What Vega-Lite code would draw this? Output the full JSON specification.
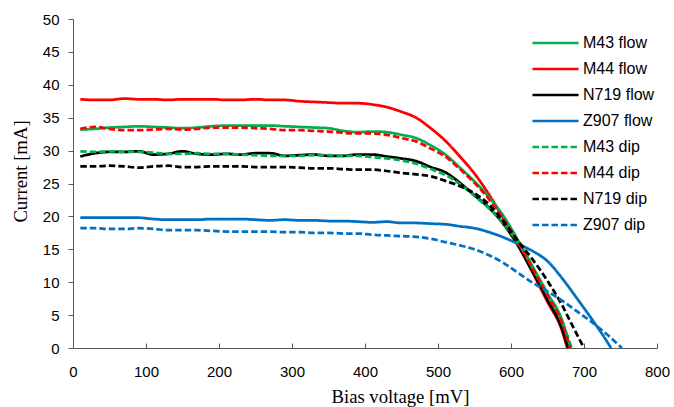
{
  "$schema": "https://vega.github.io/schema/vega-lite/v6.json",
  "width": 584,
  "height": 329,
  "autosize": "none",
  "padding": {"left": 73, "top": 19, "right": 17, "bottom": 59},
  "background": "white",
  "config": {"view": {"stroke": null}, "font": "Liberation Sans"},
  "datasets": {
    "curves": [
      {"s":"M44 flow","v":10,"i":37.8},{"s":"M44 flow","v":30,"i":37.7},{"s":"M44 flow","v":50,"i":37.7},{"s":"M44 flow","v":70,"i":37.9},{"s":"M44 flow","v":90,"i":37.8},{"s":"M44 flow","v":110,"i":37.8},{"s":"M44 flow","v":130,"i":37.7},{"s":"M44 flow","v":150,"i":37.8},{"s":"M44 flow","v":170,"i":37.8},{"s":"M44 flow","v":190,"i":37.8},{"s":"M44 flow","v":210,"i":37.7},{"s":"M44 flow","v":230,"i":37.7},{"s":"M44 flow","v":250,"i":37.8},{"s":"M44 flow","v":270,"i":37.7},{"s":"M44 flow","v":290,"i":37.7},{"s":"M44 flow","v":310,"i":37.5},{"s":"M44 flow","v":330,"i":37.4},{"s":"M44 flow","v":350,"i":37.3},{"s":"M44 flow","v":370,"i":37.2},{"s":"M44 flow","v":390,"i":37.2},{"s":"M44 flow","v":410,"i":37.0},{"s":"M44 flow","v":430,"i":36.6},{"s":"M44 flow","v":450,"i":35.9},{"s":"M44 flow","v":470,"i":35.0},{"s":"M44 flow","v":490,"i":33.4},{"s":"M44 flow","v":510,"i":31.5},{"s":"M44 flow","v":530,"i":29.1},{"s":"M44 flow","v":550,"i":26.5},{"s":"M44 flow","v":570,"i":23.3},{"s":"M44 flow","v":590,"i":19.6},{"s":"M44 flow","v":610,"i":15.6},{"s":"M44 flow","v":630,"i":11.4},{"s":"M44 flow","v":650,"i":7.0},{"s":"M44 flow","v":670,"i":2.6},{"s":"M44 flow","v":677,"i":0},

      {"s":"M43 flow","v":10,"i":33.2},{"s":"M43 flow","v":30,"i":33.3},{"s":"M43 flow","v":50,"i":33.5},{"s":"M43 flow","v":70,"i":33.6},{"s":"M43 flow","v":90,"i":33.7},{"s":"M43 flow","v":110,"i":33.6},{"s":"M43 flow","v":130,"i":33.5},{"s":"M43 flow","v":150,"i":33.4},{"s":"M43 flow","v":170,"i":33.5},{"s":"M43 flow","v":190,"i":33.7},{"s":"M43 flow","v":210,"i":33.8},{"s":"M43 flow","v":230,"i":33.8},{"s":"M43 flow","v":250,"i":33.8},{"s":"M43 flow","v":270,"i":33.8},{"s":"M43 flow","v":290,"i":33.7},{"s":"M43 flow","v":310,"i":33.6},{"s":"M43 flow","v":330,"i":33.5},{"s":"M43 flow","v":350,"i":33.4},{"s":"M43 flow","v":370,"i":33.0},{"s":"M43 flow","v":390,"i":32.8},{"s":"M43 flow","v":410,"i":32.9},{"s":"M43 flow","v":430,"i":32.8},{"s":"M43 flow","v":450,"i":32.4},{"s":"M43 flow","v":470,"i":31.9},{"s":"M43 flow","v":490,"i":30.8},{"s":"M43 flow","v":510,"i":29.4},{"s":"M43 flow","v":530,"i":27.4},{"s":"M43 flow","v":550,"i":25.3},{"s":"M43 flow","v":570,"i":22.9},{"s":"M43 flow","v":590,"i":20.0},{"s":"M43 flow","v":610,"i":16.3},{"s":"M43 flow","v":630,"i":12.3},{"s":"M43 flow","v":650,"i":8.3},{"s":"M43 flow","v":670,"i":4.2},{"s":"M43 flow","v":681,"i":0},

      {"s":"N719 flow","v":10,"i":29.1},{"s":"N719 flow","v":30,"i":29.6},{"s":"N719 flow","v":50,"i":29.8},{"s":"N719 flow","v":70,"i":29.8},{"s":"N719 flow","v":90,"i":29.9},{"s":"N719 flow","v":110,"i":29.4},{"s":"N719 flow","v":130,"i":29.5},{"s":"N719 flow","v":150,"i":29.9},{"s":"N719 flow","v":170,"i":29.5},{"s":"N719 flow","v":190,"i":29.4},{"s":"N719 flow","v":210,"i":29.5},{"s":"N719 flow","v":230,"i":29.4},{"s":"N719 flow","v":250,"i":29.6},{"s":"N719 flow","v":270,"i":29.6},{"s":"N719 flow","v":290,"i":29.2},{"s":"N719 flow","v":310,"i":29.3},{"s":"N719 flow","v":330,"i":29.4},{"s":"N719 flow","v":350,"i":29.2},{"s":"N719 flow","v":370,"i":29.2},{"s":"N719 flow","v":390,"i":29.4},{"s":"N719 flow","v":410,"i":29.4},{"s":"N719 flow","v":430,"i":29.1},{"s":"N719 flow","v":450,"i":28.8},{"s":"N719 flow","v":470,"i":28.4},{"s":"N719 flow","v":490,"i":27.5},{"s":"N719 flow","v":510,"i":26.7},{"s":"N719 flow","v":530,"i":25.1},{"s":"N719 flow","v":550,"i":23.2},{"s":"N719 flow","v":570,"i":21.3},{"s":"N719 flow","v":590,"i":18.8},{"s":"N719 flow","v":610,"i":15.5},{"s":"N719 flow","v":630,"i":11.5},{"s":"N719 flow","v":650,"i":7.3},{"s":"N719 flow","v":670,"i":2.9},{"s":"N719 flow","v":678,"i":0},

      {"s":"Z907 flow","v":10,"i":19.8},{"s":"Z907 flow","v":30,"i":19.8},{"s":"Z907 flow","v":50,"i":19.8},{"s":"Z907 flow","v":70,"i":19.8},{"s":"Z907 flow","v":90,"i":19.8},{"s":"Z907 flow","v":110,"i":19.6},{"s":"Z907 flow","v":130,"i":19.5},{"s":"Z907 flow","v":150,"i":19.5},{"s":"Z907 flow","v":170,"i":19.5},{"s":"Z907 flow","v":190,"i":19.6},{"s":"Z907 flow","v":210,"i":19.6},{"s":"Z907 flow","v":230,"i":19.6},{"s":"Z907 flow","v":250,"i":19.5},{"s":"Z907 flow","v":270,"i":19.4},{"s":"Z907 flow","v":290,"i":19.5},{"s":"Z907 flow","v":310,"i":19.4},{"s":"Z907 flow","v":330,"i":19.4},{"s":"Z907 flow","v":350,"i":19.3},{"s":"Z907 flow","v":370,"i":19.3},{"s":"Z907 flow","v":390,"i":19.2},{"s":"Z907 flow","v":410,"i":19.1},{"s":"Z907 flow","v":430,"i":19.2},{"s":"Z907 flow","v":450,"i":19.0},{"s":"Z907 flow","v":470,"i":19.0},{"s":"Z907 flow","v":490,"i":18.9},{"s":"Z907 flow","v":510,"i":18.8},{"s":"Z907 flow","v":530,"i":18.5},{"s":"Z907 flow","v":550,"i":18.2},{"s":"Z907 flow","v":570,"i":17.6},{"s":"Z907 flow","v":590,"i":16.8},{"s":"Z907 flow","v":610,"i":15.8},{"s":"Z907 flow","v":630,"i":14.7},{"s":"Z907 flow","v":650,"i":13.2},{"s":"Z907 flow","v":670,"i":10.6},{"s":"Z907 flow","v":690,"i":7.6},{"s":"Z907 flow","v":710,"i":4.5},{"s":"Z907 flow","v":725,"i":2.1},{"s":"Z907 flow","v":737,"i":0},

      {"s":"M43 dip","v":10,"i":29.9},{"s":"M43 dip","v":30,"i":29.8},{"s":"M43 dip","v":50,"i":29.9},{"s":"M43 dip","v":70,"i":29.8},{"s":"M43 dip","v":90,"i":29.8},{"s":"M43 dip","v":110,"i":29.7},{"s":"M43 dip","v":130,"i":29.5},{"s":"M43 dip","v":150,"i":29.5},{"s":"M43 dip","v":170,"i":29.6},{"s":"M43 dip","v":190,"i":29.5},{"s":"M43 dip","v":210,"i":29.5},{"s":"M43 dip","v":230,"i":29.4},{"s":"M43 dip","v":250,"i":29.3},{"s":"M43 dip","v":270,"i":29.2},{"s":"M43 dip","v":290,"i":29.2},{"s":"M43 dip","v":310,"i":29.2},{"s":"M43 dip","v":330,"i":29.3},{"s":"M43 dip","v":350,"i":29.3},{"s":"M43 dip","v":370,"i":29.2},{"s":"M43 dip","v":390,"i":29.2},{"s":"M43 dip","v":410,"i":29.0},{"s":"M43 dip","v":430,"i":28.8},{"s":"M43 dip","v":450,"i":28.5},{"s":"M43 dip","v":470,"i":28.0},{"s":"M43 dip","v":490,"i":27.2},{"s":"M43 dip","v":510,"i":26.3},{"s":"M43 dip","v":530,"i":24.9},{"s":"M43 dip","v":550,"i":23.1},{"s":"M43 dip","v":570,"i":21.2},{"s":"M43 dip","v":590,"i":18.9},{"s":"M43 dip","v":610,"i":15.9},{"s":"M43 dip","v":630,"i":12.1},{"s":"M43 dip","v":650,"i":8.1},{"s":"M43 dip","v":670,"i":4.0},{"s":"M43 dip","v":683,"i":0},

      {"s":"M44 dip","v":10,"i":33.3},{"s":"M44 dip","v":30,"i":33.6},{"s":"M44 dip","v":50,"i":33.3},{"s":"M44 dip","v":70,"i":33.1},{"s":"M44 dip","v":90,"i":33.1},{"s":"M44 dip","v":110,"i":33.2},{"s":"M44 dip","v":130,"i":33.3},{"s":"M44 dip","v":150,"i":33.2},{"s":"M44 dip","v":170,"i":33.3},{"s":"M44 dip","v":190,"i":33.5},{"s":"M44 dip","v":210,"i":33.5},{"s":"M44 dip","v":230,"i":33.5},{"s":"M44 dip","v":250,"i":33.4},{"s":"M44 dip","v":270,"i":33.3},{"s":"M44 dip","v":290,"i":33.1},{"s":"M44 dip","v":310,"i":33.1},{"s":"M44 dip","v":330,"i":33.0},{"s":"M44 dip","v":350,"i":32.9},{"s":"M44 dip","v":370,"i":32.7},{"s":"M44 dip","v":390,"i":32.6},{"s":"M44 dip","v":410,"i":32.6},{"s":"M44 dip","v":430,"i":32.4},{"s":"M44 dip","v":450,"i":31.9},{"s":"M44 dip","v":470,"i":31.4},{"s":"M44 dip","v":490,"i":30.3},{"s":"M44 dip","v":510,"i":29.1},{"s":"M44 dip","v":530,"i":27.2},{"s":"M44 dip","v":550,"i":25.1},{"s":"M44 dip","v":570,"i":22.6},{"s":"M44 dip","v":590,"i":19.6},{"s":"M44 dip","v":610,"i":16.0},{"s":"M44 dip","v":630,"i":12.0},{"s":"M44 dip","v":650,"i":8.0},{"s":"M44 dip","v":670,"i":3.8},{"s":"M44 dip","v":681,"i":0},

      {"s":"N719 dip","v":10,"i":27.6},{"s":"N719 dip","v":30,"i":27.6},{"s":"N719 dip","v":50,"i":27.7},{"s":"N719 dip","v":70,"i":27.6},{"s":"N719 dip","v":90,"i":27.4},{"s":"N719 dip","v":110,"i":27.6},{"s":"N719 dip","v":130,"i":27.7},{"s":"N719 dip","v":150,"i":27.5},{"s":"N719 dip","v":170,"i":27.5},{"s":"N719 dip","v":190,"i":27.6},{"s":"N719 dip","v":210,"i":27.6},{"s":"N719 dip","v":230,"i":27.6},{"s":"N719 dip","v":250,"i":27.5},{"s":"N719 dip","v":270,"i":27.5},{"s":"N719 dip","v":290,"i":27.5},{"s":"N719 dip","v":310,"i":27.4},{"s":"N719 dip","v":330,"i":27.3},{"s":"N719 dip","v":350,"i":27.3},{"s":"N719 dip","v":370,"i":27.2},{"s":"N719 dip","v":390,"i":27.1},{"s":"N719 dip","v":410,"i":27.1},{"s":"N719 dip","v":430,"i":26.9},{"s":"N719 dip","v":450,"i":26.6},{"s":"N719 dip","v":470,"i":26.4},{"s":"N719 dip","v":490,"i":26.1},{"s":"N719 dip","v":510,"i":25.4},{"s":"N719 dip","v":530,"i":24.6},{"s":"N719 dip","v":550,"i":23.5},{"s":"N719 dip","v":570,"i":21.8},{"s":"N719 dip","v":590,"i":19.2},{"s":"N719 dip","v":610,"i":16.2},{"s":"N719 dip","v":630,"i":13.4},{"s":"N719 dip","v":650,"i":10.2},{"s":"N719 dip","v":670,"i":6.5},{"s":"N719 dip","v":685,"i":3.2},{"s":"N719 dip","v":700,"i":0},

      {"s":"Z907 dip","v":10,"i":18.2},{"s":"Z907 dip","v":30,"i":18.2},{"s":"Z907 dip","v":50,"i":18.1},{"s":"Z907 dip","v":70,"i":18.1},{"s":"Z907 dip","v":90,"i":18.2},{"s":"Z907 dip","v":110,"i":18.1},{"s":"Z907 dip","v":130,"i":17.9},{"s":"Z907 dip","v":150,"i":17.9},{"s":"Z907 dip","v":170,"i":17.9},{"s":"Z907 dip","v":190,"i":17.8},{"s":"Z907 dip","v":210,"i":17.7},{"s":"Z907 dip","v":230,"i":17.7},{"s":"Z907 dip","v":250,"i":17.7},{"s":"Z907 dip","v":270,"i":17.7},{"s":"Z907 dip","v":290,"i":17.6},{"s":"Z907 dip","v":310,"i":17.6},{"s":"Z907 dip","v":330,"i":17.5},{"s":"Z907 dip","v":350,"i":17.5},{"s":"Z907 dip","v":370,"i":17.4},{"s":"Z907 dip","v":390,"i":17.4},{"s":"Z907 dip","v":410,"i":17.2},{"s":"Z907 dip","v":430,"i":17.1},{"s":"Z907 dip","v":450,"i":17.0},{"s":"Z907 dip","v":470,"i":16.9},{"s":"Z907 dip","v":490,"i":16.6},{"s":"Z907 dip","v":510,"i":16.1},{"s":"Z907 dip","v":530,"i":15.6},{"s":"Z907 dip","v":550,"i":15.0},{"s":"Z907 dip","v":570,"i":14.1},{"s":"Z907 dip","v":590,"i":12.9},{"s":"Z907 dip","v":610,"i":11.4},{"s":"Z907 dip","v":630,"i":9.9},{"s":"Z907 dip","v":650,"i":8.6},{"s":"Z907 dip","v":670,"i":7.2},{"s":"Z907 dip","v":690,"i":5.6},{"s":"Z907 dip","v":710,"i":4.0},{"s":"Z907 dip","v":730,"i":2.2},{"s":"Z907 dip","v":752,"i":0}
    ]
  },
  "data": {"name": "curves"},
  "mark": {"type": "line", "strokeWidth": 2.75, "interpolate": "monotone"},
  "encoding": {
    "x": {
      "field": "v", "type": "quantitative",
      "scale": {"domain": [0, 800], "nice": false},
      "axis": {
        "title": "Bias voltage [mV]", "values": [0,100,200,300,400,500,600,700,800],
        "grid": false, "domainColor": "#595959", "tickColor": "#595959", "tickSize": -5,
        "labelFlush": false, "labelOverlap": false,
        "labelPadding": 21, "labelFontSize": 15, "labelColor": "#000000", "labelFont": "Liberation Sans",
        "titleFont": "Liberation Serif", "titleFontSize": 18.7, "titleFontWeight": "normal", "titleColor": "#000000",
        "titleX": 327, "titleY": 48, "titleBaseline": "middle", "titleAlign": "center"
      }
    },
    "y": {
      "field": "i", "type": "quantitative",
      "scale": {"domain": [0, 50], "nice": false},
      "axis": {
        "title": "Current [mA]", "values": [0,5,10,15,20,25,30,35,40,45,50],
        "grid": false, "domainColor": "#595959", "tickColor": "#595959", "tickSize": 5,
        "labelOverlap": false,
        "labelPadding": 9, "labelFontSize": 15, "labelColor": "#000000", "labelFont": "Liberation Sans",
        "titleFont": "Liberation Serif", "titleFontSize": 18.7, "titleFontWeight": "normal", "titleColor": "#000000",
        "titleX": -53, "titleY": 152, "titleAngle": -90, "titleBaseline": "middle", "titleAlign": "center"
      }
    },
    "color": {
      "field": "s", "type": "nominal", "sort": null,
      "scale": {
        "domain": ["M43 flow","M44 flow","N719 flow","Z907 flow","M43 dip","M44 dip","N719 dip","Z907 dip"],
        "range": ["#00B050","#FF0000","#000000","#0070C0","#00B050","#FF0000","#000000","#0070C0"]
      },
      "legend": {
        "title": null, "orient": "none", "legendX": 465, "legendY": 6.5, "padding": 0,
        "symbolType": "M-1.44,0L1.44,0", "symbolSize": 1024, "symbolStrokeWidth": 2.5,
        "symbolFillColor": "transparent",
        "labelFontSize": 16, "labelFont": "Liberation Sans", "labelColor": "#000000",
        "labelOffset": 10, "rowPadding": 0
      }
    },
    "strokeDash": {
      "field": "s", "type": "nominal", "sort": null,
      "scale": {
        "domain": ["M43 flow","M44 flow","N719 flow","Z907 flow","M43 dip","M44 dip","N719 dip","Z907 dip"],
        "range": [[1,0],[1,0],[1,0],[1,0],[6.5,3],[6.5,3],[6.5,3],[6.5,3]]
      },
      "legend": {
        "title": null, "orient": "none", "legendX": 465, "legendY": 6.5, "padding": 0,
        "symbolType": "M-1.44,0L1.44,0", "symbolSize": 1024, "symbolStrokeWidth": 2.5,
        "symbolFillColor": "transparent",
        "labelFontSize": 16, "labelFont": "Liberation Sans", "labelColor": "#000000",
        "labelOffset": 10, "rowPadding": 0
      }
    }
  }
}
